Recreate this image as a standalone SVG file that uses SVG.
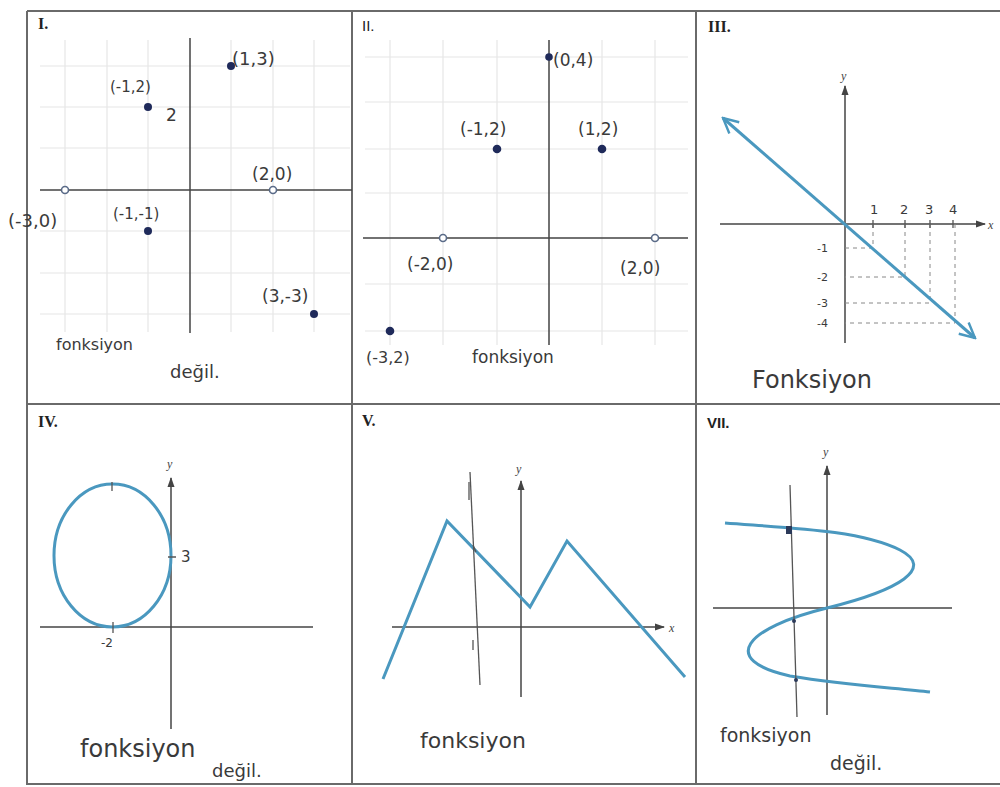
<svg xmlns="http://www.w3.org/2000/svg" width="1000" height="787" viewBox="0 0 1000 787">
<defs>
<style>
.frame{stroke:#6a6a6a;stroke-width:2;fill:none}
.grid{stroke:#e6e6e6;stroke-width:1.2;fill:none}
.axis{stroke:#444;stroke-width:1.5;fill:none}
.curve{stroke:#4a98bf;stroke-width:3;fill:none;stroke-linejoin:miter}
.pen{stroke:#555;stroke-width:1.3;fill:none}
.dash{stroke:#888;stroke-width:1;stroke-dasharray:4 4;fill:none}
.hw{font-family:"DejaVu Sans",sans-serif;fill:#3a3a3a;font-weight:normal}
.lbl{font-family:"Liberation Serif",serif;fill:#222;font-weight:bold;font-size:16px}
.lbls{font-family:"Liberation Sans",sans-serif;fill:#222;font-size:15px}
.ax{font-family:"Liberation Serif",serif;font-style:italic;fill:#444;font-size:12px}
.dot{fill:#1f2a5a}
.open{fill:#fff;stroke:#5a6b88;stroke-width:1.6}
</style>
<marker id="ah" viewBox="0 0 10 10" refX="9" refY="5" markerWidth="7" markerHeight="7" orient="auto-start-reverse">
<path d="M0,1.5 L10,5 L0,8.5 Z" fill="#444"/>
</marker>
<marker id="oa" viewBox="0 0 12 12" refX="11" refY="6" markerWidth="6" markerHeight="6" orient="auto-start-reverse">
<path d="M1,1 L11,6 L1,11" fill="none" stroke="#4a98bf" stroke-width="1.6"/>
</marker>
</defs>
<rect width="1000" height="787" fill="#fff"/>
<g id="frame">
<path class="frame" d="M27,11 H1000 M27,11 V784 H1000 M27,404 H1000 M352,11 V784 M696,11 V784"/>
</g>

<g id="panel-I">
<text class="lbl" x="38" y="29">I.</text>
<path class="grid" d="M65,40 V332 M107,40 V332 M148,40 V332 M231,40 V332 M273,40 V332 M314,40 V332 M40,66 H350 M40,107 H350 M40,148 H350 M40,231 H350 M40,273 H350 M40,314 H350"/>
<path class="axis" d="M40,190 H352 M190,38 V333"/>
<circle class="dot" cx="231" cy="66" r="4"/>
<circle class="dot" cx="148" cy="107" r="4"/>
<circle class="dot" cx="148" cy="231" r="4"/>
<circle class="dot" cx="314" cy="314" r="4"/>
<circle class="open" cx="65" cy="190" r="3.5"/>
<circle class="open" cx="273" cy="190" r="3.5"/>
<text class="hw" x="232" y="65" font-size="18">(1,3)</text>
<text class="hw" x="110" y="92" font-size="15">(-1,2)</text>
<text class="hw" x="166" y="121" font-size="17">2</text>
<text class="hw" x="252" y="180" font-size="17">(2,0)</text>
<text class="hw" x="8" y="227" font-size="18">(-3,0)</text>
<text class="hw" x="113" y="219" font-size="15">(-1,-1)</text>
<text class="hw" x="262" y="302" font-size="17">(3,-3)</text>
<text class="hw" x="56" y="350" font-size="16">fonksiyon</text>
<text class="hw" x="170" y="378" font-size="18">değil.</text>
</g>

<g id="panel-II">
<text class="lbls" x="362" y="31">II.</text>
<path class="grid" d="M390,40 V345 M443,40 V345 M497,40 V345 M602,40 V345 M655,40 V345 M365,57 H688 M365,102 H688 M365,149 H688 M365,193 H688 M365,284 H688 M365,331 H688"/>
<path class="axis" d="M363,238 H688 M549,40 V345"/>
<circle class="dot" cx="549" cy="57" r="3.8" fill="#3d4a70"/>
<circle class="dot" cx="497" cy="149" r="4.3"/>
<circle class="dot" cx="602" cy="149" r="4.3"/>
<circle class="dot" cx="390" cy="331" r="4.3"/>
<circle class="open" cx="443" cy="238" r="3.5"/>
<circle class="open" cx="655" cy="238" r="3.5"/>
<text class="hw" x="553" y="66" font-size="17">(0,4)</text>
<text class="hw" x="460" y="135" font-size="17">(-1,2)</text>
<text class="hw" x="578" y="135" font-size="17">(1,2)</text>
<text class="hw" x="407" y="270" font-size="17">(-2,0)</text>
<text class="hw" x="620" y="274" font-size="17">(2,0)</text>
<text class="hw" x="366" y="363" font-size="16">(-3,2)</text>
<text class="hw" x="472" y="363" font-size="17">fonksiyon</text>
</g>

<g id="panel-III">
<text class="lbl" x="708" y="32" font-size="14">III.</text>
<path class="axis" d="M845,343 V86" marker-end="url(#ah)"/>
<path class="axis" d="M720,224 H985" marker-end="url(#ah)"/>
<text class="ax" x="841" y="80">y</text>
<text class="ax" x="988" y="229">x</text>
<path class="dash" d="M873,224 V248 H845 M905,224 V277 H845 M930,224 V303 H845 M955,224 V323 H845"/>
<path class="pen" d="M873,220 V228 M905,220 V228 M930,220 V228 M953,220 V228"/>
<line class="curve" x1="723" y1="118" x2="975" y2="338" marker-start="url(#oa)" marker-end="url(#oa)"/>
<text class="hw" x="870" y="214" font-size="13">1</text>
<text class="hw" x="900" y="214" font-size="13">2</text>
<text class="hw" x="925" y="214" font-size="13">3</text>
<text class="hw" x="949" y="214" font-size="13">4</text>
<text class="hw" x="817" y="252" font-size="11">-1</text>
<text class="hw" x="817" y="281" font-size="11">-2</text>
<text class="hw" x="817" y="307" font-size="11">-3</text>
<text class="hw" x="817" y="327" font-size="11">-4</text>
<text class="hw" x="752" y="388" font-size="24">Fonksiyon</text>
</g>

<g id="panel-IV">
<text class="lbl" x="38" y="427" font-weight="normal" font-size="16">IV.</text>
<path class="axis" d="M171,729 V478" marker-end="url(#ah)"/>
<path class="axis" d="M40,627 H313"/>
<text class="ax" x="167" y="468">y</text>
<ellipse class="curve" cx="112.5" cy="555.5" rx="58.5" ry="71.5"/>
<path class="pen" d="M112,482 V491 M113,622 V633 M168,557 H176"/>
<text class="hw" x="101" y="647" font-size="12">-2</text>
<text class="hw" x="181" y="562" font-size="15">3</text>
<text class="hw" x="80" y="757" font-size="24">fonksiyon</text>
<text class="hw" x="212" y="777" font-size="18">değil.</text>
</g>

<g id="panel-V">
<text class="lbl" x="362" y="426" font-weight="normal" font-size="16">V.</text>
<path class="axis" d="M521,697 V481" marker-end="url(#ah)"/>
<path class="axis" d="M392,627 H664" marker-end="url(#ah)"/>
<text class="ax" x="516" y="473">y</text>
<text class="ax" x="669" y="632">x</text>
<polyline class="curve" points="383,679 447,521 530,607 567,541 685,677"/>
<path class="pen" d="M470,472 Q474,560 480,685"/>
<path class="pen" d="M469,482 V500 M473,545 L476,552 M473,640 V650"/>
<text class="hw" x="420" y="748" font-size="22">fonksiyon</text>
</g>

<g id="panel-VII">
<text class="lbls" x="707" y="428" font-weight="bold">VII.</text>
<path class="axis" d="M827,715 V466" marker-end="url(#ah)"/>
<path class="axis" d="M713,608 H952"/>
<text class="ax" x="823" y="456">y</text>
<path class="curve" d="M725,523 C790,528 860,530 900,550 C935,568 900,590 827,608 C745,628 718,660 790,676 C850,686 900,688 930,692"/>
<path class="pen" d="M790,485 Q793,600 797,717"/>
<rect x="786" y="526" width="6" height="8" fill="#2c3a5a"/>
<circle cx="794" cy="621" r="2" fill="#2c3a5a"/>
<circle cx="796" cy="680" r="2" fill="#2c3a5a"/>
<text class="hw" x="720" y="742" font-size="19">fonksiyon</text>
<text class="hw" x="830" y="770" font-size="19">değil.</text>
</g>
</svg>
